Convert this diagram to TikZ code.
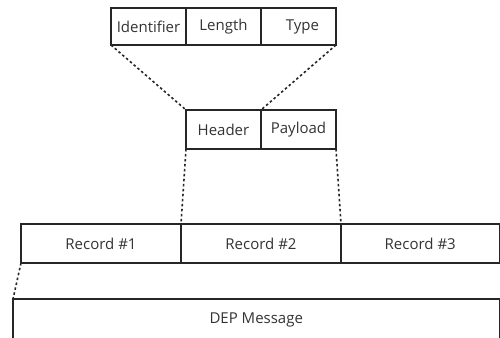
\documentclass[tikz,border=0pt]{standalone}
\usepackage{fontspec}
\setmainfont{Open Sans}
\begin{document}
\begin{tikzpicture}[x=1pt,y=-1pt,
  cell/.style={draw=black!85,line width=1.4pt,inner sep=0pt,outer sep=0pt,
    font=\fontsize{15}{17}\selectfont,text=black!80},
  link/.style={line width=1.6pt,black!85,dash pattern=on 2.5pt off 2.5pt}]
\useasboundingbox (0,0) rectangle (500,337);
\clip (0,0) rectangle (500,337);
% field layout of the header
\node[cell,minimum width=75pt,minimum height=37pt] (ident) at (148.5,26.5) {Identifier};
\node[cell,minimum width=75pt,minimum height=37pt] (len) at (223.5,26.5) {Length};
\node[cell,minimum width=75pt,minimum height=37pt] (type) at (298.5,26.5) {\hspace{8pt}Type};
% record layout
\node[cell,minimum width=75pt,minimum height=39pt] (head) at (223.5,129.5) {Header};
\node[cell,minimum width=75pt,minimum height=39pt] (pay) at (298.5,129.5) {Payload};
% message made of records
\node[cell,minimum width=160pt,minimum height=39pt] (r1) at (101,243.5) {Record \#1};
\node[cell,minimum width=160pt,minimum height=39pt] (r2) at (261,243.5) {Record \#2};
\node[cell,minimum width=158.5pt,minimum height=39pt] (r3) at (420.25,243.5) {Record \#3};
\node[cell,minimum width=486.5pt,minimum height=42pt] (dep) at (256.25,320) {DEP Message};
% expansion lines
\draw[link] (ident.south west) -- (head.north west);
\draw[link] (type.south east) -- (pay.north west);
\draw[link] (head.south west) -- (r2.north west);
\draw[link] (pay.south east) -- (r3.north west);
\draw[link] (r1.south west) -- (dep.north west);
\end{tikzpicture}
\end{document}
